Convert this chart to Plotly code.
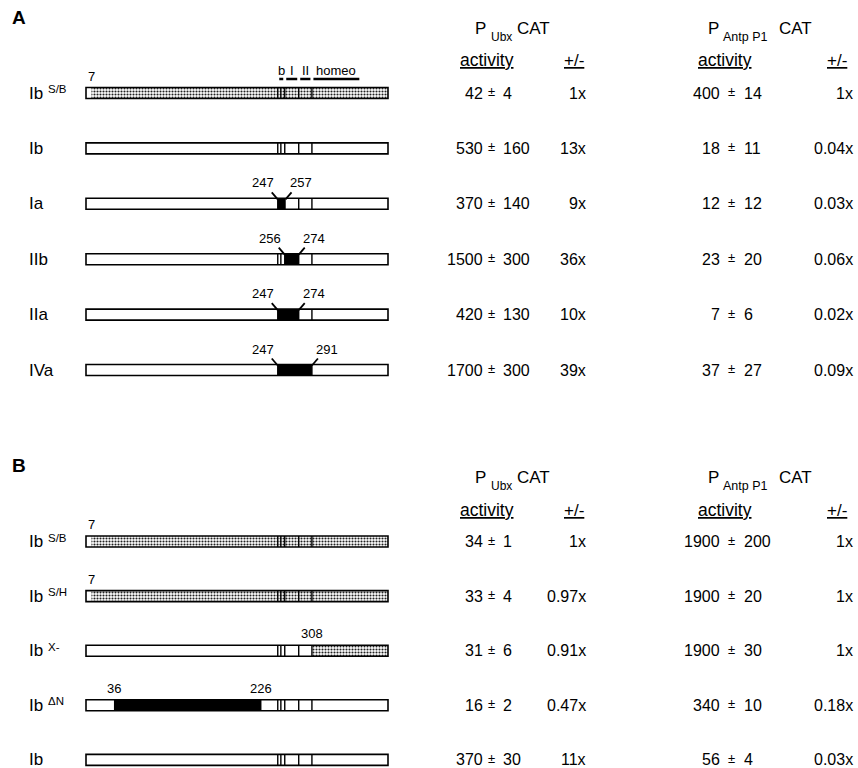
import plotly.graph_objects as go

# ---------------- data ----------------
PROT_LEN = 389
# internal domain separators (residue positions) and header regions
separators = [247, 251, 256, 274, 291]
region_names = ["b", "I", "II", "homeo"]
region_spans = [(247, 256), (256, 274), (274, 291), (291, 354)]

# Panel A
a_names = ["Ib", "Ib", "Ia", "IIb", "IIa", "IVa"]
a_sups = ["S/B", "", "", "", "", ""]
a_shaded = [(7, PROT_LEN), None, None, None, None, None]
a_black = [None, None, (247, 257), (256, 274), (247, 274), (247, 291)]
a_labels = [[(7, "7")], [], [(247, "247"), (257, "257")], [(256, "256"), (274, "274")],
            [(247, "247"), (274, "274")], [(247, "247"), (291, "291")]]
a_ubx_act = ["42", "530", "370", "1500", "420", "1700"]
a_ubx_err = ["4", "160", "140", "300", "130", "300"]
a_ubx_fold = ["1x", "13x", "9x", "36x", "10x", "39x"]
a_antp_act = ["400", "18", "12", "23", "7", "37"]
a_antp_err = ["14", "11", "12", "20", "6", "27"]
a_antp_fold = ["1x", "0.04x", "0.03x", "0.06x", "0.02x", "0.09x"]

# Panel B
b_names = ["Ib", "Ib", "Ib", "Ib", "Ib"]
b_sups = ["S/B", "S/H", "X-", "\u0394N", ""]
b_shaded = [(7, PROT_LEN), (7, PROT_LEN), (291, PROT_LEN), None, None]
b_black = [None, None, None, (36, 226), None]
b_labels = [[(7, "7")], [(7, "7")], [(291, "308")], [(36, "36"), (226, "226")], []]
b_ubx_act = ["34", "33", "31", "16", "370"]
b_ubx_err = ["1", "4", "6", "2", "30"]
b_ubx_fold = ["1x", "0.97x", "0.91x", "0.47x", "11x"]
b_antp_act = ["1900", "1900", "1900", "340", "56"]
b_antp_err = ["200", "20", "30", "10", "4"]
b_antp_fold = ["1x", "1x", "1x", "0.18x", "0.03x"]

# ---------------- layout constants ----------------
W, H = 858, 768
BAR_X0, BAR_X1 = 86, 388
SCALE = (BAR_X1 - BAR_X0) / PROT_LEN          # px per residue
XR = [-BAR_X0 / SCALE, (W - BAR_X0) / SCALE]
BAR_H = 11
FONT = "Liberation Sans, Arial, Helvetica, sans-serif"

A_Y0, A_DY = 93, 55.4
B_Y0, B_DY = 541.5, 54.6
a_rows = [A_Y0 + i * A_DY for i in range(len(a_names))]
b_rows = [B_Y0 + i * B_DY for i in range(len(b_names))]

def px(r):
    return r / SCALE

fig = go.Figure()
ann = []

def add_text(x_px, y, text, size=16, anchor="center", color="black", bold=False, yanchor="middle"):
    ann.append(dict(x=x_px / W, xref="paper", y=y, yref="y", text=text, showarrow=False,
                    xanchor=anchor, yanchor=yanchor,
                    font=dict(family=FONT, size=size, color=color,
                              weight="bold" if bold else "normal")))

rows = a_rows + b_rows
shaded = a_shaded + b_shaded
black = a_black + b_black

# white base
fig.add_trace(go.Bar(orientation="h", y=rows, base=[0] * len(rows), x=[PROT_LEN] * len(rows),
                     width=BAR_H, marker=dict(color="white", line=dict(width=0)),
                     hoverinfo="skip"))
# stippled (shaded) segments
sy = [r for r, s in zip(rows, shaded) if s]
fig.add_trace(go.Bar(orientation="h", y=sy, base=[s[0] for s in shaded if s],
                     x=[s[1] - s[0] for s in shaded if s], width=BAR_H,
                     marker=dict(color="white", line=dict(width=0),
                                 pattern=dict(shape=".", fgcolor="#222222", bgcolor="white",
                                              size=3, solidity=0.38, fillmode="replace")),
                     hoverinfo="skip"))
# black segments
by = [r for r, s in zip(rows, black) if s]
fig.add_trace(go.Bar(orientation="h", y=by, base=[s[0] for s in black if s],
                     x=[s[1] - s[0] for s in black if s], width=BAR_H,
                     marker=dict(color="black", line=dict(width=0)), hoverinfo="skip"))
# outline
fig.add_trace(go.Bar(orientation="h", y=rows, base=[0] * len(rows), x=[PROT_LEN] * len(rows),
                     width=BAR_H, marker=dict(color="rgba(0,0,0,0)",
                                              line=dict(width=1.6, color="black")),
                     hoverinfo="skip"))

# separators
sx, syy = [], []
for r in rows:
    for s in separators:
        sx += [s, s, None]
        syy += [r - BAR_H / 2, r + BAR_H / 2, None]
fig.add_trace(go.Scatter(x=sx, y=syy, mode="lines", line=dict(color="black", width=1.4),
                         hoverinfo="skip"))

# region header dashes (above first construct in A)
dx, dy = [], []
for (s, e) in region_spans:
    dx += [s + px(1.5), e - px(1.5), None]
    dy += [A_Y0 - 14, A_Y0 - 14, None]
fig.add_trace(go.Scatter(x=dx, y=dy, mode="lines", line=dict(color="black", width=2.5),
                         hoverinfo="skip"))
for name, (s, e) in zip(region_names, region_spans):
    ann.append(dict(x=(s + e) / 2, xref="x", y=A_Y0 - 23, yref="y", text=name, showarrow=False,
                    font=dict(family=FONT, size=13, color="black")))

# residue labels and ticks
tx, ty = [], []
for i, (r, labs) in enumerate(zip(a_rows, a_labels)):
    top = r - BAR_H / 2
    if a_black[i]:
        s, e = a_black[i]
        tx += [s - px(6), s, None, e + px(6), e, None]
        ty += [top - 6, top + 1, None, top - 6, top + 1, None]
        for (pos, t), sh in zip(labs, [-15, 15]):
            ann.append(dict(x=pos, xref="x", xshift=sh, y=r - 21, yref="y", text=t,
                            showarrow=False, font=dict(family=FONT, size=13, color="black")))
    else:
        for pos, t in labs:
            ann.append(dict(x=pos, xref="x", y=r - 17, yref="y", text=t, showarrow=False,
                            font=dict(family=FONT, size=13, color="black")))
for r, labs in zip(b_rows, b_labels):
    for pos, t in labs:
        ann.append(dict(x=pos, xref="x", y=r - 17, yref="y", text=t, showarrow=False,
                        font=dict(family=FONT, size=13, color="black")))
fig.add_trace(go.Scatter(x=tx, y=ty, mode="lines", line=dict(color="black", width=1.8),
                         hoverinfo="skip"))

# row labels
for r, n, s in zip(rows, a_names + b_names, a_sups + b_sups):
    add_text(27, r, n, size=17, anchor="left")
    if s:
        add_text(46, r - 4, s, size=11.5, anchor="left")

# activity columns
def columns(rowy, ubx_a, ubx_e, ubx_f, antp_a, antp_e, antp_f):
    for r, a1, e1, f1, a2, e2, f2 in zip(rowy, ubx_a, ubx_e, ubx_f, antp_a, antp_e, antp_f):
        add_text(485, r, a1, anchor="right")
        add_text(491.5, r - 1.5, "\u00b1", size=13)
        add_text(501, r, e1, anchor="left")
        add_text(588, r, f1, anchor="right")
        add_text(722, r, a2, anchor="right")
        add_text(731.5, r - 1.5, "\u00b1", size=13)
        add_text(742, r, e2, anchor="left")
        add_text(855, r, f2, anchor="right")

columns(a_rows, a_ubx_act, a_ubx_err, a_ubx_fold, a_antp_act, a_antp_err, a_antp_fold)
columns(b_rows, b_ubx_act, b_ubx_err, b_ubx_fold, b_antp_act, b_antp_err, b_antp_fold)

def headers(yh, ya):
    add_text(481, yh, "P", size=17)
    add_text(489, yh + 9, "Ubx", size=12, anchor="left")
    add_text(515, yh, "CAT", size=17, anchor="left")
    add_text(713, yh, "P", size=17)
    add_text(721, yh + 9, "Antp\u00a0P1", size=12.5, anchor="left")
    add_text(777, yh, "CAT", size=17, anchor="left")
    add_text(487, ya, "<u>activity</u>", size=17.5)
    add_text(574, ya, "<u>+/-</u>", size=17)
    add_text(725, ya, "<u>activity</u>", size=17.5)
    add_text(837, ya, "<u>+/-</u>", size=17)

headers(28, 60)
headers(477, 510)

add_text(10, 17, "A", size=19, anchor="left", bold=True)
add_text(10, 465, "B", size=19, anchor="left", bold=True)

fig.update_layout(
    width=W, height=H, margin=dict(l=0, r=0, t=0, b=0),
    paper_bgcolor="white", plot_bgcolor="white",
    showlegend=False, barmode="overlay", annotations=ann,
    xaxis=dict(range=XR, visible=False, fixedrange=True),
    yaxis=dict(range=[H, 0], visible=False, fixedrange=True),
)
fig.write_html("out.html", config={"displayModeBar": False},
               post_script="document.body.style.margin='0px';document.body.style.padding='0px';"
                           "document.body.style.overflow='hidden';")
